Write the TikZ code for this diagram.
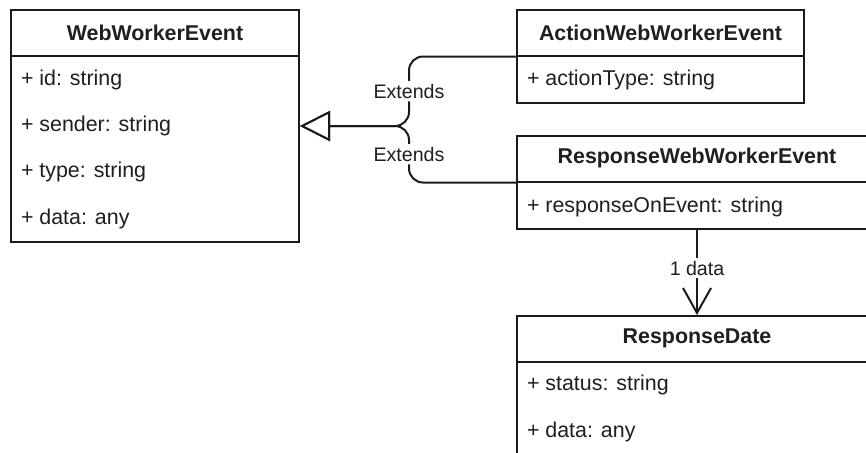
\documentclass[tikz,border=0pt]{standalone}
\usepackage{fontspec}
\setmainfont{Liberation Sans}
\usetikzlibrary{arrows.meta,calc,positioning}
\definecolor{umlline}{HTML}{1A1A1A}
\definecolor{umltext}{HTML}{1F1F1F}

\begin{document}
\begin{tikzpicture}[x=0.5pt,y=-0.5pt,
  cls/.style={draw=umlline,line width=1pt,fill=white,anchor=north west,inner sep=0pt},
  hdr/.style={anchor=north,inner sep=0pt,minimum height=23pt,font=\fontsize{10.7}{12}\selectfont\bfseries,text=umltext},
  fld/.style={anchor=west,inner sep=0pt,font=\fontsize{10.7}{12}\selectfont,text=umltext},
  lbl/.style={fill=white,inner sep=1.5pt,font=\fontsize{9.8}{11}\selectfont,text=umltext},
  link/.style={draw=umlline,line width=1pt}]
 \useasboundingbox (0,0) rectangle (866,452);
 \clip (0,0) rectangle (866,452);
 %WEBWORKEREVENT:
 \node[cls,minimum width=144pt,minimum height=116pt] (wwe) at (10,9) {};
 \node[hdr,minimum width=144pt] (wwehead) at (wwe.north) {WebWorkerEvent};
 \draw[link] (wwehead.south west) -- (wwehead.south east);
 \foreach \f [count=\i] in {+ id: string,+ sender: string,+ type: string,+ data: any}
   \node[fld] (wwef\i) at ($(wwehead.south west)+(10,{24+46.3*(\i-1)})$) {\f};
 %ACTIONWEBWORKEREVENT:
 \node[cls,minimum width=143.5pt,minimum height=46.5pt] (action) at (516,9) {};
 \node[hdr,minimum width=143.5pt] (actionhead) at (action.north) {ActionWebWorkerEvent};
 \draw[link] (actionhead.south west) -- (actionhead.south east);
 \node[fld] (actionf1) at ($(actionhead.south west)+(10,24)$) {+ actionType: string};
 %RESPONSEWEBWORKEREVENT:
 \node[cls,minimum width=180pt,minimum height=46.5pt] (resp) at (516,135) {};
 \node[hdr,minimum width=180pt] (resphead) at (resp.north) {ResponseWebWorkerEvent};
 \draw[link] (resphead.south west) -- (resphead.south east);
 \node[fld] (respf1) at ($(resphead.south west)+(10,25)$) {+ responseOnEvent: string};
 %RESPONSEDATE:
 \node[cls,minimum width=180pt,minimum height=80pt] (rdate) at (516,315) {};
 \node[hdr,minimum width=180pt] (rdatehead) at (rdate.north) {ResponseDate};
 \draw[link] (rdatehead.south west) -- (rdatehead.south east);
 \foreach \f [count=\i] in {+ status: string,+ data: any}
   \node[fld] (rdatef\i) at ($(rdatehead.south west)+(10,{23+47.5*(\i-1)})$) {\f};
 %extends ----------------------------
 \coordinate (join) at ($(wwe.east)+(109,0)$);
 \draw[link,rounded corners=7pt,-{Triangle[open,length=15pt,width=15pt,fill=white]}]
   (action.west) -| node[lbl,pos=0.75]{Extends} (join) -- (wwe.east);
 \draw[link,rounded corners=7pt,-{Triangle[open,length=15pt,width=15pt,fill=white]}]
   (resp.west) -| node[lbl,pos=0.75]{Extends} (join) -- (wwe.east);
 %association ------------------------
 \draw[link,-{Straight Barb[length=12.5pt,width=14pt]}]
   (resp.south) -- node[lbl,pos=0.45]{1 data} (rdate.north);
\end{tikzpicture}
\end{document}
